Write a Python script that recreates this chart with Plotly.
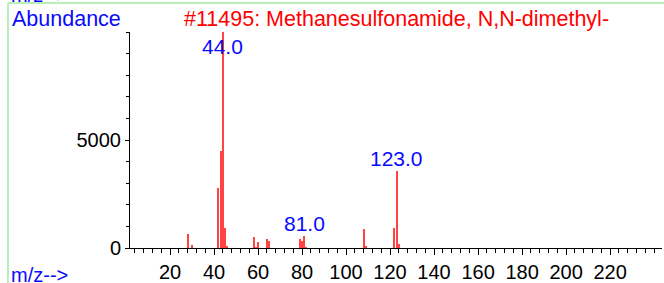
import plotly.graph_objects as go

# Data
mz = [28, 30, 42, 43, 44, 45, 46, 58, 59, 60, 64, 65, 79, 80, 81, 82, 108, 109, 122, 123, 124]
abundance = [650, 150, 2760, 4490, 9999, 910, 60, 500, 40, 280, 400, 340, 400, 320, 540, 40,
             865, 50, 910, 3565, 185]
labeled_peaks = [44, 81, 123]
x_tick_vals = [20, 40, 60, 80, 100, 120, 140, 160, 180, 200, 220]
y_tick_vals = [0, 5000]
title_text = "#11495: Methanesulfonamide, N,N-dimethyl-"

FONT = "Arial, Liberation Sans, sans-serif"
BLUE = "#0a0aff"
W, H = 664, 283
ML, MR, MT, MB = 130, 2, 32, 35
PW, PH = W - ML - MR, H - MT - MB
YMAX = 10000


def px_to_paper_x(px):
    return (px - ML) / PW


def py_to_paper_y(py):
    return (H - MB - py) / PH


fig = go.Figure()
fig.add_trace(go.Bar(x=mz, y=abundance, width=0.5,
                     marker=dict(color="#ff4444", line=dict(width=0)),
                     hoverinfo="x+y"))

annotations = []
for m in labeled_peaks:
    v = abundance[mz.index(m)]
    annotations.append(dict(x=m, y=min(v, 8750), xref="x", yref="y",
                            text=f"{m:.1f}", showarrow=False, yanchor="bottom",
                            yshift=-1, font=dict(family=FONT, size=21, color=BLUE)))

annotations += [
    dict(x=px_to_paper_x(10), y=py_to_paper_y(19), xref="paper", yref="paper",
         text="Abundance", showarrow=False, xanchor="left", yanchor="middle",
         font=dict(family=FONT, size=21.5, color=BLUE)),
    dict(x=px_to_paper_x(182), y=py_to_paper_y(19), xref="paper", yref="paper",
         text=title_text, showarrow=False, xanchor="left", yanchor="middle",
         font=dict(family=FONT, size=21.5, color="#ff0000")),
    dict(x=px_to_paper_x(9), y=py_to_paper_y(275), xref="paper", yref="paper",
         text="m/z-->", showarrow=False, xanchor="left", yanchor="middle",
         font=dict(family=FONT, size=20, color=BLUE)),
    dict(x=px_to_paper_x(9), y=py_to_paper_y(-5), xref="paper", yref="paper",
         text="m/z-->", showarrow=False, xanchor="left", yanchor="middle",
         font=dict(family=FONT, size=20, color=BLUE)),
]

shapes = [
    dict(type="line", xref="paper", yref="paper",
         x0=px_to_paper_x(8), x1=px_to_paper_x(W), y0=py_to_paper_y(3), y1=py_to_paper_y(3),
         line=dict(color="#b8f0b8", width=2)),
    dict(type="line", xref="paper", yref="paper",
         x0=px_to_paper_x(8), x1=px_to_paper_x(8), y0=py_to_paper_y(3), y1=py_to_paper_y(H),
         line=dict(color="#b8f0b8", width=2)),
]

fig.update_layout(
    width=W, height=H, autosize=False,
    margin=dict(l=ML, r=MR, t=MT, b=MB, pad=0, autoexpand=False),
    paper_bgcolor="white", plot_bgcolor="white",
    showlegend=False, bargap=0,
    annotations=annotations, shapes=shapes,
    xaxis=dict(range=[1.8, 243.6], tickvals=x_tick_vals, showgrid=False, zeroline=False,
               showline=True, linecolor="black", linewidth=1, automargin=False,
               ticks="outside", ticklen=6, tickcolor="black", tickwidth=1,
               minor=dict(dtick=4, tick0=0, ticks="outside", ticklen=4, tickcolor="black", tickwidth=1),
               tickfont=dict(family=FONT, size=20, color="black")),
    yaxis=dict(range=[0, YMAX], tickvals=y_tick_vals, showgrid=False, zeroline=False,
               showline=True, linecolor="black", linewidth=1, automargin=False,
               ticks="outside", ticklen=4, tickcolor="black", tickwidth=1,
               minor=dict(dtick=1000, tick0=0, ticks="outside", ticklen=3, tickcolor="black", tickwidth=1),
               tickfont=dict(family=FONT, size=20, color="black")),
)

fig.write_html("out.html", config={"displayModeBar": False},
               post_script="document.body.style.margin='0';document.body.style.overflow='hidden';")
